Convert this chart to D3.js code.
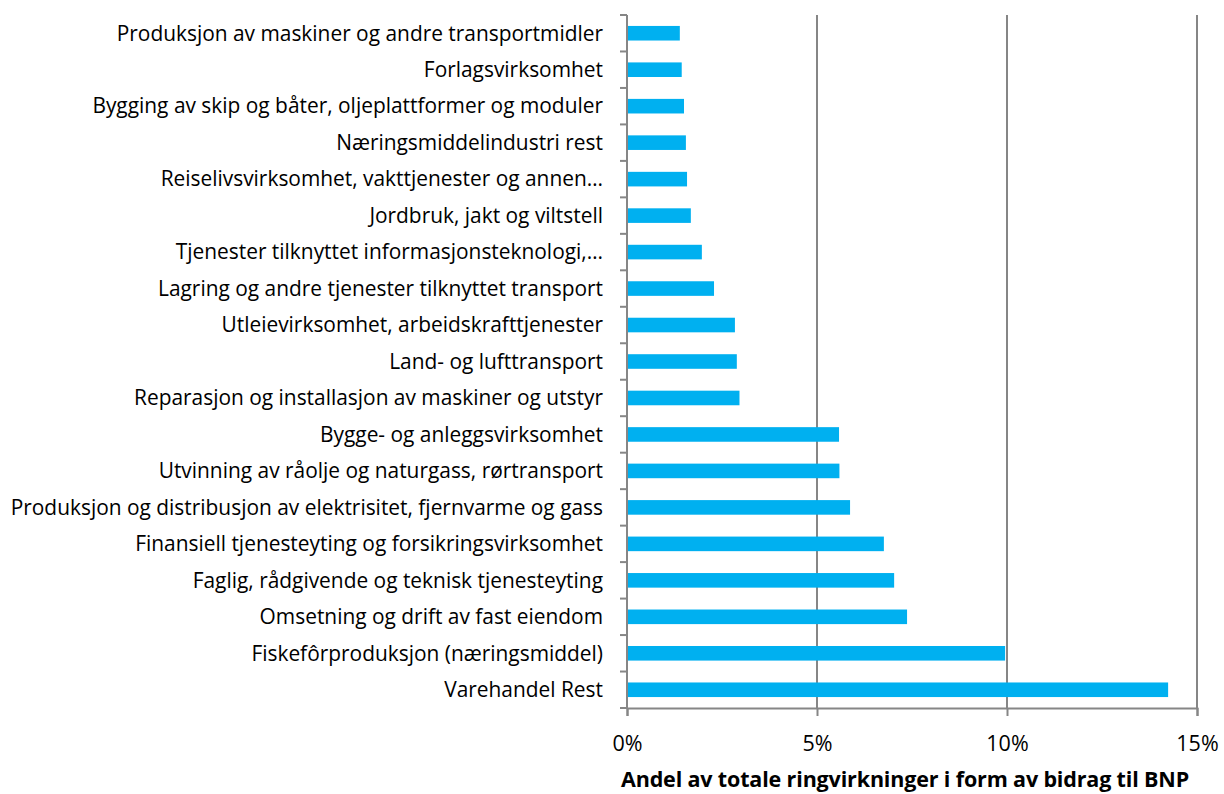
<!DOCTYPE html>
<html>
<head>
<meta charset="utf-8">
<script src="https://cdn.jsdelivr.net/npm/d3@7"></script>
<style>
  body { margin: 0; background: #fff; }
  svg text { font-family: "Open Sans", sans-serif; fill: #000; }
</style>
</head>
<body>
<div id="chart"></div>
<script>
var categories = [
  'Produksjon av maskiner og andre transportmidler',
  'Forlagsvirksomhet',
  'Bygging av skip og båter, oljeplattformer og moduler',
  'Næringsmiddelindustri rest',
  'Reiselivsvirksomhet, vakttjenester og annen…',
  'Jordbruk, jakt og viltstell',
  'Tjenester tilknyttet informasjonsteknologi,…',
  'Lagring og andre tjenester tilknyttet transport',
  'Utleievirksomhet, arbeidskrafttjenester',
  'Land- og lufttransport',
  'Reparasjon og installasjon av maskiner og utstyr',
  'Bygge- og anleggsvirksomhet',
  'Utvinning av råolje og naturgass, rørtransport',
  'Produksjon og distribusjon av elektrisitet, fjernvarme og gass',
  'Finansiell tjenesteyting og forsikringsvirksomhet',
  'Faglig, rådgivende og teknisk tjenesteyting',
  'Omsetning og drift av fast eiendom',
  'Fiskefôrproduksjon (næringsmiddel)',
  'Varehandel Rest'
]
var shares = [1.39, 1.44, 1.50, 1.55, 1.58, 1.68, 1.97, 2.29, 2.84, 2.89, 2.96,
              5.58, 5.59, 5.87, 6.76, 7.03, 7.37, 9.95, 14.24]
var xTicks = [0, 5, 10, 15]
var xTitle = 'Andel av totale ringvirkninger i form av bidrag til BNP'

var margin = { top: 15, right: 27, bottom: 86, left: 627 }
var width = 1224 - margin.left - margin.right
var height = 794 - margin.top - margin.bottom
var gridColor = '#868686'

var svg = d3.select('#chart')
  .append('svg')
    .attr('width', 1224)
    .attr('height', 794)
  .append('g')
    .attr('transform', 'translate(' + margin.left + ',' + margin.top + ')')

var x = d3.scaleLinear().domain([0, 15]).range([0, width])
var y = d3.scaleBand().domain(categories).range([0, height]).paddingInner(0.6).paddingOuter(0.3)

// vertical gridlines
svg.selectAll('.grid')
  .data(xTicks.slice(1))
  .enter()
  .append('line')
    .attr('x1', d => x(d)).attr('x2', d => x(d))
    .attr('y1', 0).attr('y2', height)
    .attr('stroke', gridColor)
    .attr('stroke-width', 2)

// bars
svg.selectAll('.bar')
  .data(shares)
  .enter()
  .append('rect')
    .attr('x', x(0))
    .attr('y', (d, i) => y(categories[i]))
    .attr('width', d => x(d) - x(0))
    .attr('height', y.bandwidth())
    .attr('fill', '#00b0f0')

// category axis: ticks at band boundaries
var bounds = d3.range(categories.length + 1).map(i => i * height / categories.length)
svg.append('line')
  .attr('x1', 0).attr('x2', 0).attr('y1', 0).attr('y2', height)
  .attr('stroke', gridColor).attr('stroke-width', 2)
svg.selectAll('.ytick')
  .data(bounds)
  .enter()
  .append('line')
    .attr('x1', -7).attr('x2', 0)
    .attr('y1', d => d).attr('y2', d => d)
    .attr('stroke', gridColor).attr('stroke-width', 2)
svg.selectAll('.ylabel')
  .data(categories)
  .enter()
  .append('text')
    .attr('x', -24)
    .attr('y', d => y(d) + y.bandwidth() / 2)
    .attr('dy', '0.35em')
    .attr('text-anchor', 'end')
    .style('font-size', '20.9px')
    .text(d => d)

// value axis
var xAxis = svg.append('g')
  .attr('transform', 'translate(0,' + height + ')')
  .call(d3.axisBottom(x).tickValues(xTicks).tickFormat(d => d + '%').tickSize(8).tickPadding(20))
xAxis.select('.domain').attr('stroke', gridColor).attr('stroke-width', 2)
xAxis.selectAll('.tick line').attr('stroke', gridColor).attr('stroke-width', 2)
xAxis.selectAll('.tick text')
  .style('font-size', '21.5px')
  .style('font-family', '"Open Sans", sans-serif')

svg.append('text')
  .attr('x', width / 2 - 7)
  .attr('y', height + 79)
  .attr('text-anchor', 'middle')
  .style('font-size', '21.5px')
  .style('font-weight', 'bold')
  .style('letter-spacing', '-0.15px')
  .text(xTitle)
</script>
</body>
</html>
